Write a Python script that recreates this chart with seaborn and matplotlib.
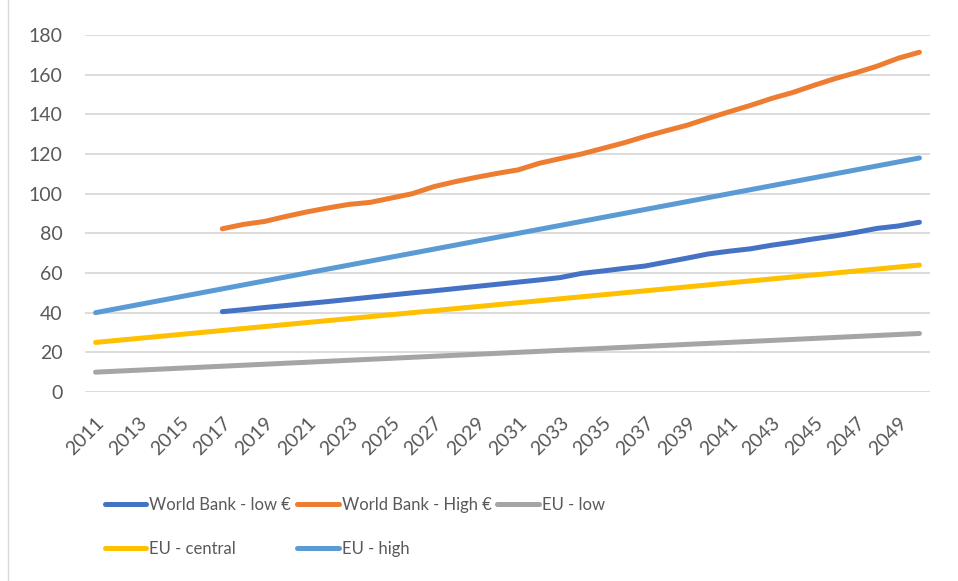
import matplotlib
matplotlib.use("Agg")
import matplotlib.pyplot as plt
import seaborn as sns
import pandas as pd
from matplotlib.lines import Line2D

sns.set_theme(style="white")
plt.rcParams['font.family'] = ['Lato', 'DejaVu Sans']

# Data
years = list(range(2011, 2051))
eu_low = [10, 10.5, 11, 11.5, 12, 12.5, 13, 13.5, 14, 14.5, 15, 15.5, 16, 16.5,
          17, 17.5, 18, 18.5, 19, 19.5, 20, 20.5, 21, 21.5, 22, 22.5, 23, 23.5,
          24, 24.5, 25, 25.5, 26, 26.5, 27, 27.5, 28, 28.5, 29, 29.5]
eu_central = [25, 26, 27, 28, 29, 30, 31, 32, 33, 34, 35, 36, 37, 38, 39, 40,
              41, 42, 43, 44, 45, 46, 47, 48, 49, 50, 51, 52, 53, 54, 55, 56,
              57, 58, 59, 60, 61, 62, 63, 64]
eu_high = [40, 42, 44, 46, 48, 50, 52, 54, 56, 58, 60, 62, 64, 66, 68, 70, 72,
           74, 76, 78, 80, 82, 84, 86, 88, 90, 92, 94, 96, 98, 100, 102, 104,
           106, 108, 110, 112, 114, 116, 118]

wb_years = list(range(2017, 2051))
wb_low = [40.5, 41.5, 42.6, 43.6, 44.6, 45.6, 46.7, 47.8, 48.9, 50.0, 51.0,
          52.1, 53.2, 54.3, 55.4, 56.5, 57.7, 59.8, 61.0, 62.3, 63.5, 65.5,
          67.5, 69.6, 71.0, 72.2, 74.0, 75.5, 77.2, 78.7, 80.5, 82.5, 83.7, 85.6]
wb_high = [82.3, 84.5, 86.0, 88.5, 90.8, 92.8, 94.6, 95.6, 97.8, 100.0, 103.5,
           106.0, 108.2, 110.2, 112.0, 115.3, 117.7, 120.0, 122.8, 125.6, 128.8,
           131.7, 134.5, 138.0, 141.3, 144.5, 148.0, 151.0, 154.6, 158.0, 161.0,
           164.3, 168.3, 171.3]

series_names = ["World Bank - low €", "World Bank - High €", "EU - low",
                "EU - central", "EU - high"]
colors = ["#4472C4", "#ED7D31", "#A5A5A5", "#FFC000", "#5B9BD5"]

frames = [
    pd.DataFrame({"year": wb_years, "value": wb_low, "series": series_names[0]}),
    pd.DataFrame({"year": wb_years, "value": wb_high, "series": series_names[1]}),
    pd.DataFrame({"year": years, "value": eu_low, "series": series_names[2]}),
    pd.DataFrame({"year": years, "value": eu_central, "series": series_names[3]}),
    pd.DataFrame({"year": years, "value": eu_high, "series": series_names[4]}),
]
df = pd.concat(frames, ignore_index=True)

lw = 3.6

fig = plt.figure(figsize=(9.58, 5.81), dpi=100)
ax = fig.add_axes([85 / 958, 1 - 392 / 581, 845 / 958, 357 / 581])

sns.lineplot(data=df, x="year", y="value", hue="series", hue_order=series_names,
             palette=colors, linewidth=lw, ax=ax, legend=False,
             solid_capstyle="round", solid_joinstyle="round")

ax.set_xlim(2010.5, 2050.5)
ax.set_ylim(0, 180)
ax.set_yticks(range(0, 181, 20))
ax.set_xticks(range(2011, 2050, 2))
ax.set_xlabel("")
ax.set_ylabel("")
ax.grid(axis="y", color="#D9D9D9", linewidth=1.3)
ax.set_axisbelow(True)
for s in ax.spines.values():
    s.set_visible(False)
ax.tick_params(axis="both", length=0, labelsize=14, labelcolor="#595959")
ax.tick_params(axis="y", pad=16)
ax.tick_params(axis="x", pad=16)
for lbl in ax.get_xticklabels():
    lbl.set_rotation(45)
    lbl.set_ha("right")
    lbl.set_va("top")
    lbl.set_rotation_mode("anchor")

# legend laid out row by row like the original
handles = [Line2D([0], [0], color=c, linewidth=lw, solid_capstyle="round")
           for c in colors]
order = [0, 3, 1, 4, 2]
leg = fig.legend([handles[i] for i in order], [series_names[i] for i in order],
                 ncol=3, loc="upper left", bbox_to_anchor=(98 / 958, 1 - 490 / 581),
                 frameon=False, fontsize=12, handlelength=2.5, handletextpad=0.18,
                 columnspacing=0.35, labelspacing=1.7, borderaxespad=0)
for t in leg.get_texts():
    t.set_color("#595959")

fig.add_artist(Line2D([8 / 958, 8 / 958], [0, 1], color="#D9D9D9", linewidth=1,
                      transform=fig.transFigure))

fig.savefig("out.png", dpi=100)
